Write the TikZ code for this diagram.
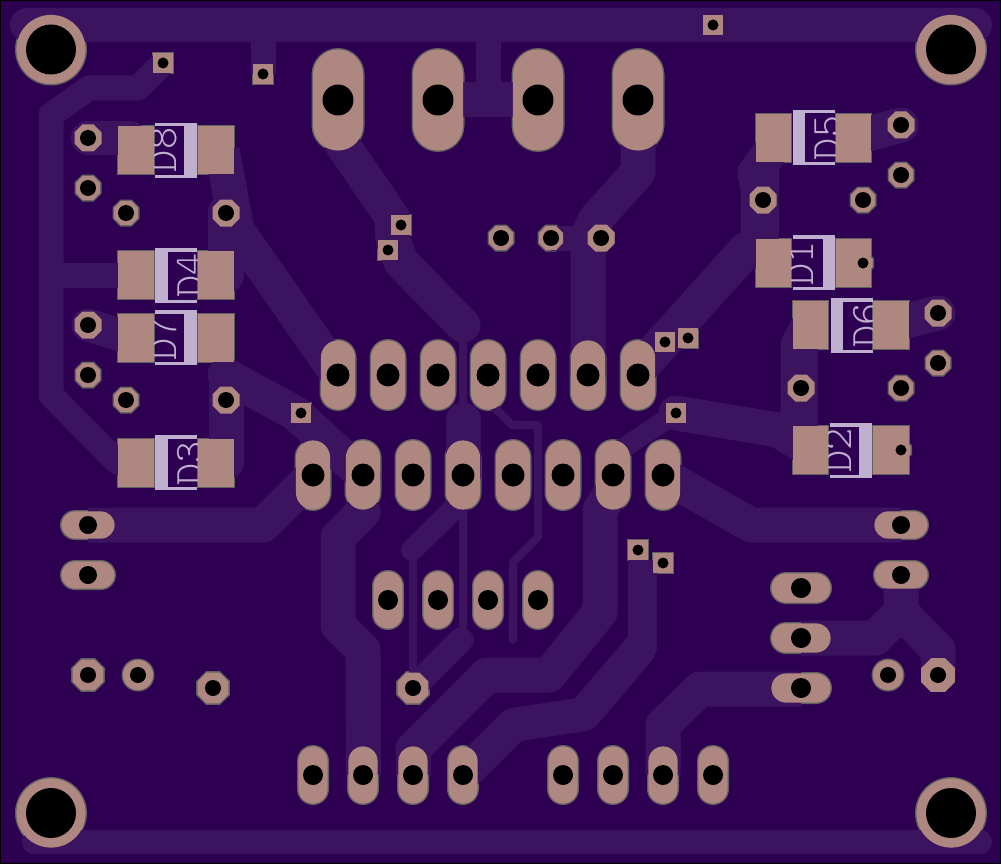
\documentclass[tikz,border=0pt]{standalone}
\usepackage{fontspec}
\definecolor{boardc}{HTML}{2E0052}
\definecolor{tracec}{HTML}{3C135F}
\definecolor{padc}{HTML}{AE8880}
\definecolor{edgec}{HTML}{5F5F5F}
\definecolor{silkc}{HTML}{C0B0D0}
\newcommand\pins{0}
\newcommand\pcol{edgec}
% stadium pad: x y w h
\newcommand\PadOv[4]{\pgfmathsetmacro\rr{min(#3,#4)/2-\pins}\fill[\pcol,rounded corners=\rr pt]({#1-#3/2+\pins},{#2-#4/2+\pins}) rectangle ({#1+#3/2-\pins},{#2+#4/2-\pins});}
% octagon pad: x y flat radius
\newcommand\PadOc[3]{\pgfmathsetmacro\rr{(#3-\pins)/cos(22.5)}\fill[\pcol]
 ({#1+\rr*cos(22.5)},{#2+\rr*sin(22.5)}) -- ({#1+\rr*cos(67.5)},{#2+\rr*sin(67.5)}) -- ({#1+\rr*cos(112.5)},{#2+\rr*sin(112.5)}) -- ({#1+\rr*cos(157.5)},{#2+\rr*sin(157.5)}) -- ({#1+\rr*cos(202.5)},{#2+\rr*sin(202.5)}) -- ({#1+\rr*cos(247.5)},{#2+\rr*sin(247.5)}) -- ({#1+\rr*cos(292.5)},{#2+\rr*sin(292.5)}) -- ({#1+\rr*cos(337.5)},{#2+\rr*sin(337.5)}) -- cycle;}
% rectangle pad: x0 y0 x1 y1
\newcommand\PadRc[4]{\fill[\pcol]({#1+\pins},{#2+\pins}) rectangle ({#3-\pins},{#4-\pins});}
\newcommand\Drill[3]{\fill[black](#1,#2) circle[radius=#3];}
\newcommand\AllPads{%
 \foreach \x/\y in {51/49.5,951/49.5,51/813,951/813}{\PadOv{\x}{\y}{72}{72}}
 \foreach \x in {338,438,538,638}{\PadOv{\x}{100}{53}{104}}
 \foreach \x in {338,388,438,488,538,588,638}{\PadOv{\x}{375}{37}{72}}
 \foreach \x in {313,363,413,463,513,563,613,663}{\PadOv{\x}{475}{37}{72}}
 \foreach \x in {388,438,488,538}{\PadOv{\x}{600}{32}{60}}
 \foreach \x in {313,363,413,463,563,613,663,713}{\PadOv{\x}{775}{32}{60}}
 \foreach \x/\y in {88/525,88/575,901/525,901/575}{\PadOv{\x}{\y}{56}{30}}
 \foreach \x/\y in {801/588,801/638,801/688}{\PadOv{\x}{\y}{62}{32}}
 \foreach \x/\y in {88/138,88/188,126/213,226/213,88/325,88/375,126/400,226/400,901/125,901/175,863/200,763/200,938/313,938/363,901/388,801/388,501/238,551/238,601/238}{\PadOc{\x}{\y}{13.5}}
 \foreach \x/\y in {88/675,213/688,413/688,938/675}{\PadOc{\x}{\y}{16.8}}
 \foreach \x/\y in {138/675,888/675}{\PadOv{\x}{\y}{33}{33}}
 \foreach \x/\y in {163/63,263/74,401/225,388/250,713/25,665/342,688/338,676/413,301/413,638/550,663/563}{\PadRc{\x-11}{\y-11}{\x+11}{\y+11}}
 \foreach \y in {125,250,313,438}{\PadRc{117}{\y}{155}{\y+50}\PadRc{197}{\y}{235}{\y+50}}
 \foreach \y in {113,238}{\PadRc{755}{\y}{792}{\y+50}\PadRc{835}{\y}{872}{\y+50}}
 \foreach \y in {300,425}{\PadRc{792}{\y}{829}{\y+50}\PadRc{872}{\y}{910}{\y+50}}
 \PadOc{863}{263}{11}\PadOc{901}{450}{11}
}
\newcommand\AllHoles{%
 \foreach \x/\y in {51/49.5,951/49.5,51/813,951/813}{\Drill{\x}{\y}{25}}
 \foreach \x in {338,438,538,638}{\Drill{\x}{100}{15.5}}
 \foreach \x in {338,388,438,488,538,588,638}{\Drill{\x}{375}{11.5}}
 \foreach \x in {313,363,413,463,513,563,613,663}{\Drill{\x}{475}{11.5}}
 \foreach \x in {388,438,488,538}{\Drill{\x}{600}{10}}
 \foreach \x in {313,363,413,463,563,613,663,713}{\Drill{\x}{775}{10}}
 \foreach \x/\y in {88/525,88/575,901/525,901/575}{\Drill{\x}{\y}{9}}
 \foreach \x/\y in {801/588,801/638,801/688}{\Drill{\x}{\y}{10}}
 \foreach \x/\y in {88/138,88/188,126/213,226/213,88/325,88/375,126/400,226/400,901/125,901/175,863/200,763/200,938/313,938/363,901/388,801/388,501/238,551/238,601/238}{\Drill{\x}{\y}{8}}
 \foreach \x/\y in {88/675,138/675,213/688,413/688,888/675,938/675}{\Drill{\x}{\y}{8}}
 \foreach \x/\y in {163/63,263/74,401/225,388/250,713/25,665/342,688/338,676/413,301/413,638/550,663/563}{\Drill{\x}{\y}{5.5}}
 \Drill{863}{263}{5.5}\Drill{901}{450}{5.5}
}
\tikzset{
 tr/.style={draw=tracec,line width=#1 pt,line cap=round,line join=round},
 trb/.style={draw=tracec,line width=#1 pt,line cap=butt,line join=round},
 silktext/.style={text=silkc,inner sep=0pt,font=\fontsize{42}{42}\ttfamily\fontseries{l}\selectfont}
}
\newcommand\Lab[3]{\node[silktext,rotate=90,anchor=base] at (#1,#2) {#3};}
\newcommand\Sk[6]{\fill[silkc](#1,#2) rectangle (#3,{#2+3.5});\fill[silkc](#1,{#4-3.5}) rectangle (#3,#4);\fill[silkc](#5,#2) rectangle (#6,#4);}
\begin{document}
\begin{tikzpicture}[x=1pt,y=-1pt]
\useasboundingbox (0,0) rectangle (1001,864);
\fill[boardc] (0,0) rectangle (1001,864);
% gray pad edges below the copper
\AllPads
% copper traces
\draw[tr=34] (27,25) -- (975,25);
\draw[trb=25] (263,25) -- (263,74);
\draw[trb=25] (488,25) -- (488,99);
\draw[trb=35] (438,100) -- (538,100);
\draw[tr=24] (34,842) -- (980,842);
\draw[trb=25] (163,63) -- (138,88) -- (89,88) -- (51,115) -- (51,395) -- (117,462) -- (142,462);
\draw[trb=25] (51,275) -- (142,275);
\draw[tr=34] (88,138) -- (130,138);
\draw[tr=33] (88,325) -- (130,338);
\draw[trb=35] (222,150) -- (237,230) -- (338,375);
\draw[tr=36] (226,213) -- (226,275);
\draw[tr=35] (225,375) -- (295,413) -- (363,475);
\draw[tr=35] (226,375) -- (226,462);
\draw[trb=35] (88,525) -- (263,525) -- (313,475);
\draw[tr=35] (338,100) -- (342,144) -- (392,217) -- (393,240) -- (401,262) -- (463,325);
\draw[trb=8] (463,325) -- (463,640);
\draw[tr=35] (463,420) -- (463,475);
\draw[tr=8] (488,375) -- (488,401) -- (512,425) -- (538,425) -- (538,537) -- (513,562) -- (513,640);
\draw[tr=22] (412,550) -- (463,500);
\draw[trb=8] (413,550) -- (413,688);
\draw[tr=25] (413,688) -- (461,640);
\draw[tr=35] (363,512) -- (338,537) -- (338,625) -- (363,650) -- (363,720);
\draw[trb=35] (363,720) -- (363,775);
\draw[tr=35] (613,490) -- (600,510) -- (600,612) -- (549,675) -- (487,675) -- (413,749);
\draw[trb=35] (413,749) -- (413,775);
\fill[tracec] (642,646) circle[radius=15];
\draw[trb=34] (463,775) -- (513.5,725) -- (584,714) -- (642,646);
\draw[trb=29] (642,650) -- (642,560);
\draw[trb=35] (663,775) -- (663,725) -- (700,689) -- (801,689);
\draw[trb=35] (801,638) -- (875,638) -- (901,612) -- (901,575);
\fill[tracec] (901,612) circle[radius=17.5];
\draw[trb=35] (901,612) -- (938,650) -- (938,675);
\draw[trb=35] (663,475) -- (751,525) -- (901,525);
\draw[tr=20] (613,455) -- (676,413);
\draw[tr=35] (676,413) -- (778,430) -- (810,450);
\draw[trb=37] (810,325) -- (799,345) -- (799,430);
\draw[tr=35] (773,148) -- (755,173) -- (760,200);
\draw[trb=38] (760,165) -- (760,240);
\draw[trb=36] (638,370) -- (746,250) -- (773,250);
\draw[tr=35] (853,138) -- (901,125);
\draw[tr=35] (890,325) -- (938,313);
\draw[tr=35] (638,100) -- (638,172) -- (595,220) -- (588,235) -- (588,375);
\draw[trb=25] (551,238) -- (588,238);
% silk outlines and labels
\Sk{155}{123}{197}{178}{184}{197}
\Sk{155}{248}{197}{303}{155}{168}
\Sk{155}{310}{197}{365}{184}{197}
\Sk{155}{435}{197}{490}{155}{168}
\Sk{793}{110}{835}{165}{793}{805}
\Sk{793}{235}{835}{290}{823}{835}
\Sk{831}{298}{873}{353}{831}{843}
\Sk{830}{423}{872}{478}{859}{872}
\Lab{176}{150}{D8}
\Lab{203}{275}{D4}
\Lab{176}{338}{D7}
\Lab{203}{463}{D3}
\Lab{840}{138}{D5}
\Lab{813}{263}{D1}
\Lab{879}{325}{D6}
\Lab{851}{450}{D2}
% pad copper and drill holes
\renewcommand\pins{1.4}
\renewcommand\pcol{padc}
\AllPads
\renewcommand\pins{0}
\foreach \x/\y in {88/138,226/213,88/325,226/400,901/125,763/200,938/313,801/388,601/238}{\PadOc{\x}{\y}{13.5}}
\PadOc{938}{675}{16.8}
\AllHoles
\draw[black,line width=2pt] (0,0) rectangle (1001,864);
\end{tikzpicture}
\end{document}
